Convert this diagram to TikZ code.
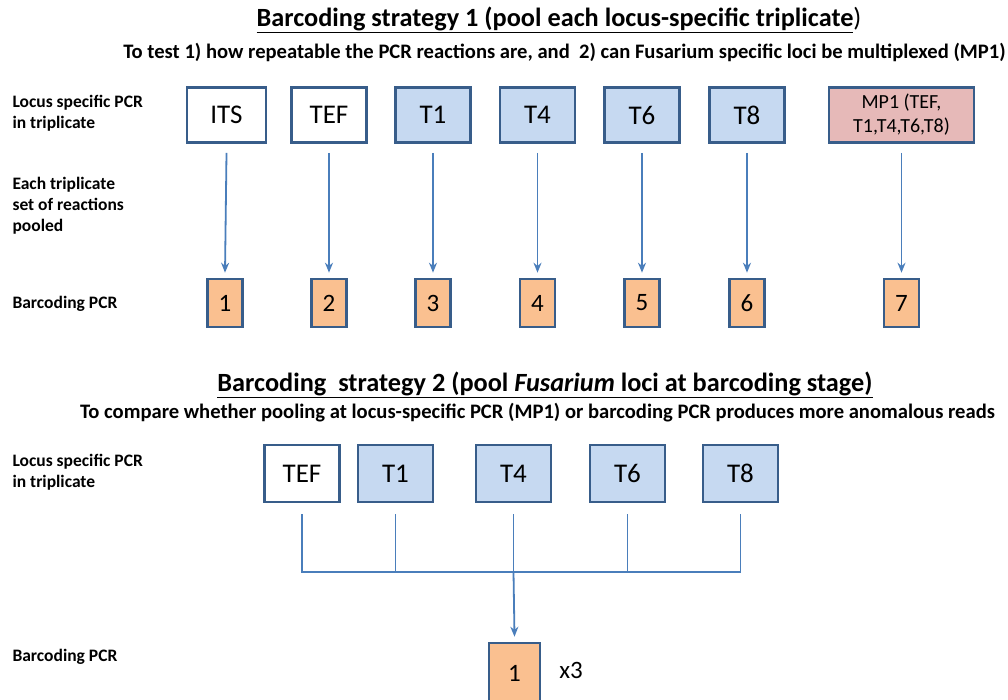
\documentclass[tikz,border=0pt]{standalone}
\usepackage{fontspec}
\setmainfont{Carlito}
\usetikzlibrary{arrows.meta}
\definecolor{BCBorder}{HTML}{385D8A}
\definecolor{BCBlue}{HTML}{C6D9F1}
\definecolor{BCOrange}{HTML}{FAC090}
\definecolor{BCPink}{HTML}{E6B9B8}
\definecolor{BCLine}{HTML}{4A7EBB}

\begin{document}
\begin{tikzpicture}[x=1pt,y=-1pt,
  locus/.style={draw=BCBorder,line width=2.6pt,fill=white,minimum width=75pt,minimum height=55pt,inner sep=0pt,font=\fontsize{27}{30}\selectfont},
  fus/.style={locus,fill=BCBlue},
  multi/.style={locus,fill=BCPink,minimum width=145pt,align=center,font=\fontsize{20}{24}\selectfont},
  barcode/.style={draw=BCBorder,line width=2.6pt,fill=BCOrange,minimum width=35pt,minimum height=48pt,inner sep=0pt,font=\fontsize{25}{28}\selectfont},
  rowlabel/.style={anchor=west,align=left,font=\bfseries\fontsize{17.5}{21}\selectfont},
  heading/.style={font=\bfseries\fontsize{26.3}{30}\selectfont},
  subheading/.style={font=\bfseries\fontsize{20.6}{24}\selectfont},
  link/.style={draw=BCLine,line width=1.8pt},
  arrow/.style={link,-{Stealth[length=10pt,width=8pt]}}]
\path[use as bounding box] (0,0) rectangle (1008,699);
% strategy 1
\node[heading] (title1) at (559,20) {\underline{Barcoding strategy 1 (pool each locus-specific triplicate}\mdseries)};
\node[subheading] (sub1) at (564.5,52) {To test 1) how repeatable the PCR reactions are, and\ \ 2) can Fusarium specific loci be multiplexed (MP1)};
\node[rowlabel] (lab1) at (9,113.5) {Locus specific PCR\\in triplicate};
\node[rowlabel] (lab2) at (9,206) {Each triplicate\\set of reactions\\pooled};
\node[rowlabel] (lab3) at (9,304) {Barcoding PCR};
\node[locus,minimum width=79pt] (its) at (226.5,115) {ITS};
\node[locus] (tef) at (329,115) {TEF};
\node[fus] (t1) at (433,115) {T1};
\node[fus] (t4) at (537.5,115) {T4};
\node[fus] (t6) at (642,115) {T6};
\node[fus] (t8) at (747,115) {T8};
\node[multi] (mp1) at (901.5,115) {MP1 (TEF,\\T1,T4,T6,T8)};
\node[barcode] (b1) at (225,303) {1};
\node[barcode] (b2) at (329,303) {2};
\node[barcode] (b3) at (433,303) {3};
\node[barcode] (b4) at (537.5,303) {4};
\node[barcode] (b5) at (642,303) {5};
\node[barcode] (b6) at (747,303) {6};
\node[barcode] (b7) at (901.5,303) {7};
\foreach \src/\dst in {its/b1,tef/b2,t1/b3,t4/b4,t6/b5,t8/b6,mp1/b7}
  \draw[arrow] ([yshift=-9pt]\src.south) -- ([yshift=5pt]\dst.north);
% strategy 2
\node[heading] (title2) at (545,385) {\underline{Barcoding\ \ strategy 2 (pool \textit{Fusarium} loci at barcoding stage)}};
\node[subheading] (sub2) at (537.5,413) {To compare whether pooling at locus-specific PCR (MP1) or barcoding PCR produces more anomalous reads};
\node[rowlabel] (lab4) at (9,472.5) {Locus specific PCR\\in triplicate};
\node[rowlabel] (lab5) at (9,657) {Barcoding PCR};
\node[locus,minimum height=57pt] (tefb) at (302,473.5) {TEF};
\node[fus,minimum height=57pt] (t1b) at (395.5,473.5) {T1};
\node[fus,minimum height=57pt] (t4b) at (513.5,473.5) {T4};
\node[fus,minimum height=57pt] (t6b) at (627.5,473.5) {T6};
\node[fus,minimum height=57pt] (t8b) at (740.5,473.5) {T8};
\coordinate (bus) at (513.5,572);
\node[barcode,minimum width=51pt,minimum height=60pt] (bc) at (514.5,673) {1};
\node[font=\fontsize{25}{28}\selectfont] (times) at (571,670) {x3};
\draw[link] ([yshift=-11pt]tefb.south) -- (tefb.south |- bus) -- (t8b.south |- bus) -- ([yshift=-11pt]t8b.south);
\foreach \src in {t1b,t4b,t6b}
  \draw[link] ([yshift=-11pt]\src.south) -- (\src.south |- bus);
\draw[arrow] (bus) -- ([yshift=5pt]bc.north);
\end{tikzpicture}
\end{document}
